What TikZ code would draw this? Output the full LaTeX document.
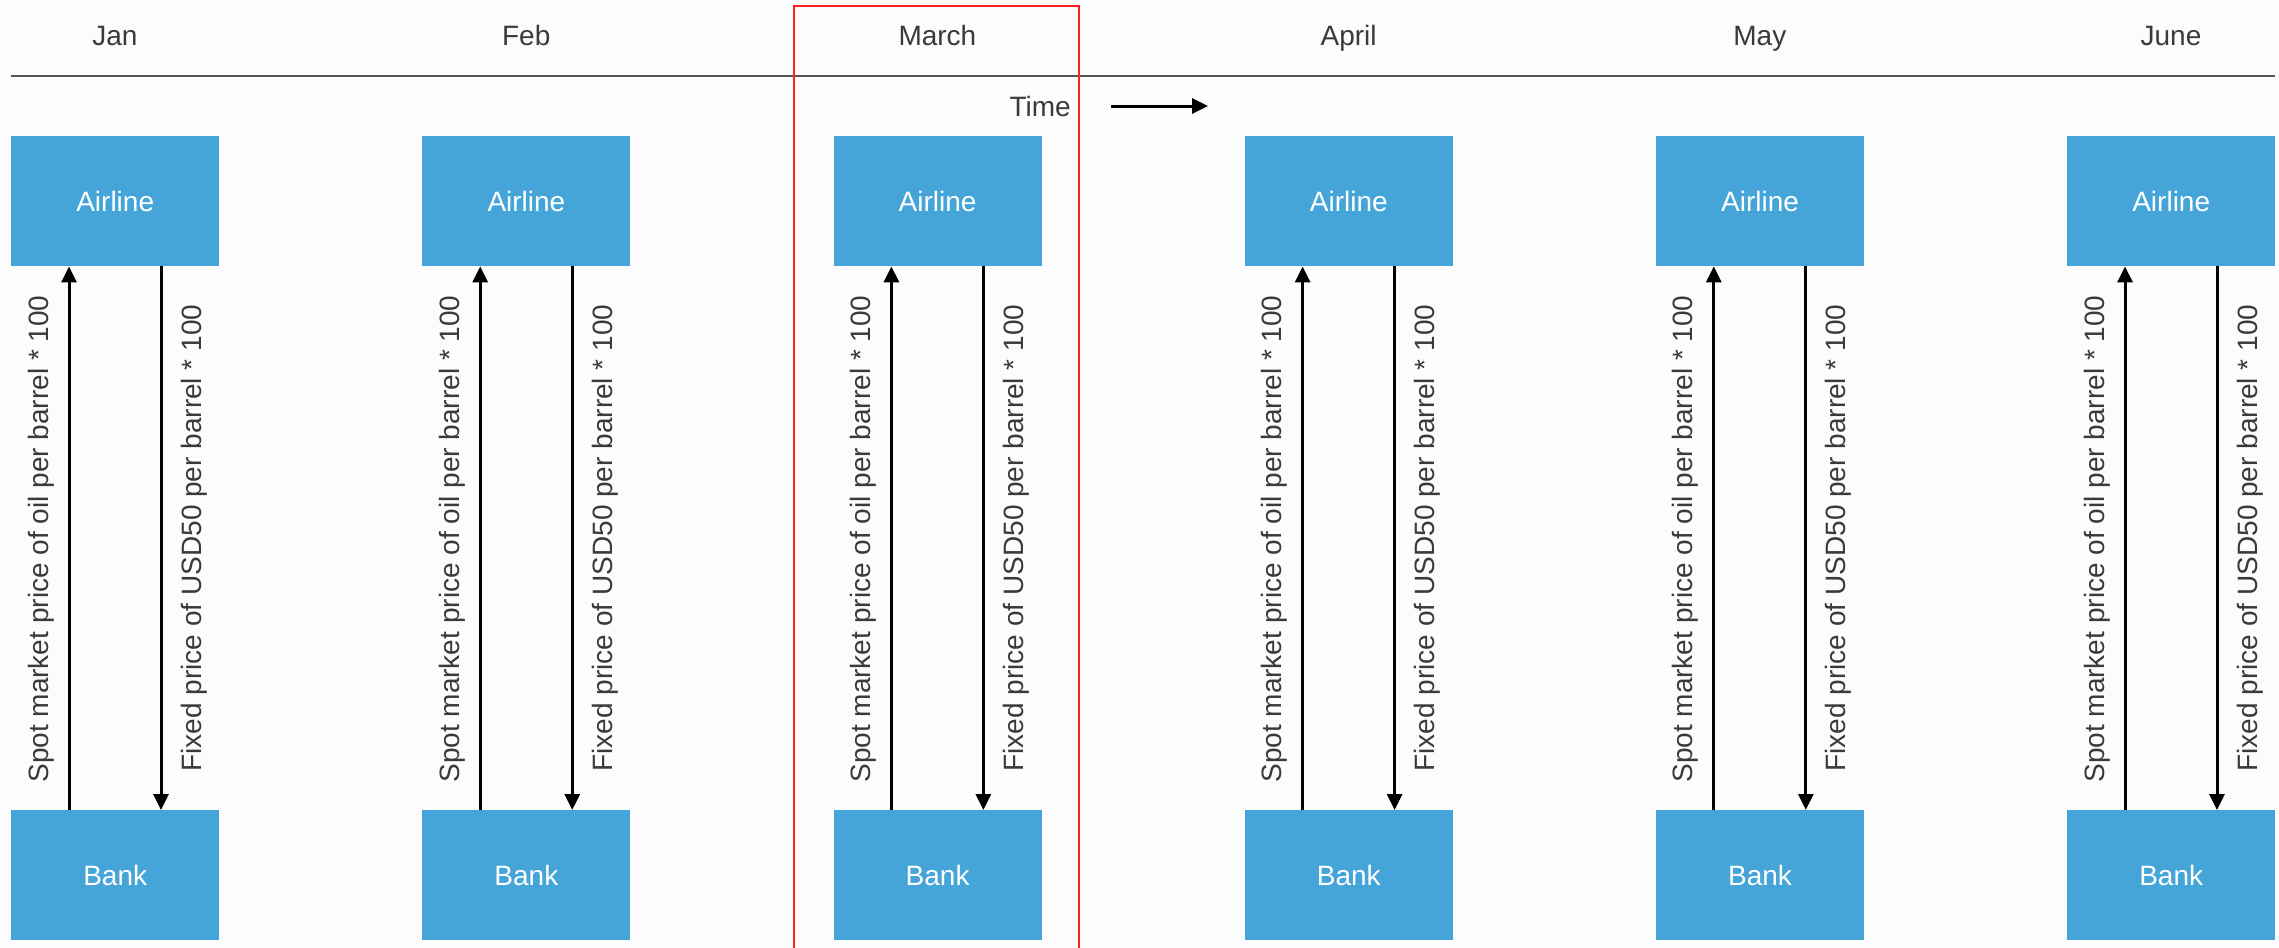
\documentclass[tikz,border=0pt]{standalone}
\usepackage{fontspec}
\setmainfont{Liberation Sans}
\usetikzlibrary{arrows.meta}
\definecolor{boxblue}{HTML}{45A5D8}
\definecolor{textgray}{HTML}{3A3A3A}
\definecolor{linegray}{HTML}{555555}
\definecolor{bgcol}{HTML}{FCFCFC}
\definecolor{framered}{HTML}{FF2020}
\begin{document}
\begin{tikzpicture}[x=1pt,y=-1pt,
  entity/.style={fill=boxblue, text=white, minimum width=208pt, minimum height=130pt,
    inner sep=0pt, anchor=north west, font=\fontsize{28}{34}\selectfont},
  month/.style={anchor=base, text=textgray, inner sep=0pt, font=\fontsize{28}{34}\selectfont},
  flowlabel/.style={rotate=90, anchor=base, text=textgray, inner sep=0pt,
    font=\fontsize{28}{34}\selectfont},
  flow/.style={line width=3pt, -{Triangle[length=16pt,width=15pt]}}]
\fill[bgcol] (0,0) rectangle (2279,948);
\useasboundingbox (0,0) rectangle (2279,948);
% time line
\coordinate (l0) at (11,76);
\coordinate (l1) at (2275,76);
\draw[line width=2pt, linegray] (l0) -- (l1);
% columns
\foreach \m [count=\i from 0] in {Jan,Feb,March,April,May,June} {
  \pgfmathsetmacro\L{11+411.2*\i}
  \node[entity] (air\i) at (\L,136) {Airline};
  \node[entity] (bank\i) at (\L,810) {Bank};
  \node[month] (m\i) at (\L+104,45) {\m};
  \draw[flow] ([xshift=58pt]bank\i.north west) -- ([xshift=58pt]air\i.south west);
  \draw[flow] ([xshift=150pt]air\i.south west) -- ([xshift=150pt]bank\i.north west);
  \node[flowlabel] (s\i) at (\L+37,539) {Spot market price of oil per barrel * 100};
  \node[flowlabel] (f\i) at (\L+190,538) {Fixed price of USD50 per barrel * 100};
}
% time label and arrow
\node[month, anchor=base east] (time) at (1071,116) {Time};
\coordinate (ts) at (1111,106);
\coordinate (te) at (1208,106);
\draw[flow] (ts) -- (te);
% red frame
\coordinate (r0) at (794,950);
\coordinate (r1) at (794,6);
\coordinate (r2) at (1079,6);
\coordinate (r3) at (1079,950);
\draw[framered, line width=2pt] (r0) -- (r1) -- (r2) -- (r3);
\end{tikzpicture}
\end{document}
